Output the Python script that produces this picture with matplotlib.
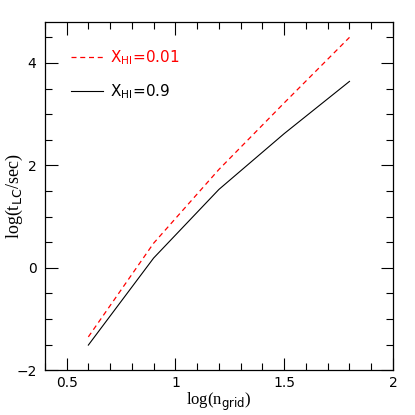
import numpy as np
import matplotlib
matplotlib.use("Agg")
import matplotlib.pyplot as plt
from matplotlib.ticker import MultipleLocator

# log(n_grid) values and log(t_LC/sec) for two neutral fractions
log_ngrid = [0.6, 0.9, 1.2, 1.5, 1.8]
log_tlc_x001 = [-1.35, 0.48, 1.92, 3.22, 4.5]
log_tlc_x09 = [-1.51, 0.19, 1.53, 2.62, 3.64]
labels = [r"X$_{\rm HI}$=0.01", r"X$_{\rm HI}$=0.9"]

plt.rcParams['font.family'] = 'DejaVu Sans'
plt.rcParams['mathtext.fontset'] = 'dejavusans'

fig = plt.figure(figsize=(4.15, 4.15), dpi=100)
ax = fig.add_axes([0.108, 0.108, 0.839, 0.839])

ax.plot(log_ngrid, log_tlc_x001, color='red', ls=(0, (4, 3)), lw=0.9, label=labels[0])
ax.plot(log_ngrid, log_tlc_x09, color='black', lw=0.8, label=labels[1])

ax.set_xlim(0.4, 2.0)
ax.set_ylim(-2.0, 4.8)
ax.xaxis.set_minor_locator(MultipleLocator(0.1))
ax.yaxis.set_minor_locator(MultipleLocator(0.5))
ax.set_xticks([0.5, 1.0, 1.5, 2.0])
ax.set_xticklabels(["0.5", "1", "1.5", "2"])
ax.set_yticks([-2, 0, 2, 4])
ax.set_yticklabels(["\u22122", "0", "2", "4"])
ax.tick_params(which='both', direction='in', top=True, right=True, labelsize=10, width=0.8)
ax.tick_params(which='major', length=9)
ax.tick_params(axis='x', which='major', pad=4)
ax.tick_params(axis='y', which='major', pad=6)
ax.tick_params(which='minor', length=5)
for s in ax.spines.values():
    s.set_linewidth(0.9)

ax.set_xlabel(r"log(n$_{\rm grid}$)", family='Liberation Serif', fontsize=12, labelpad=1)
ax.set_ylabel(r"log(t$_{\rm LC}$/sec)", family='Liberation Serif', fontsize=13)
ax.yaxis.set_label_coords(-0.058, 0.5)

leg = ax.legend(loc='upper left', bbox_to_anchor=(0.035, 0.965), frameon=False,
                handlelength=2.1, handletextpad=0.5, labelspacing=1.05, fontsize=11)
leg.get_texts()[0].set_color('red')

fig.savefig("out.png", dpi=100)
